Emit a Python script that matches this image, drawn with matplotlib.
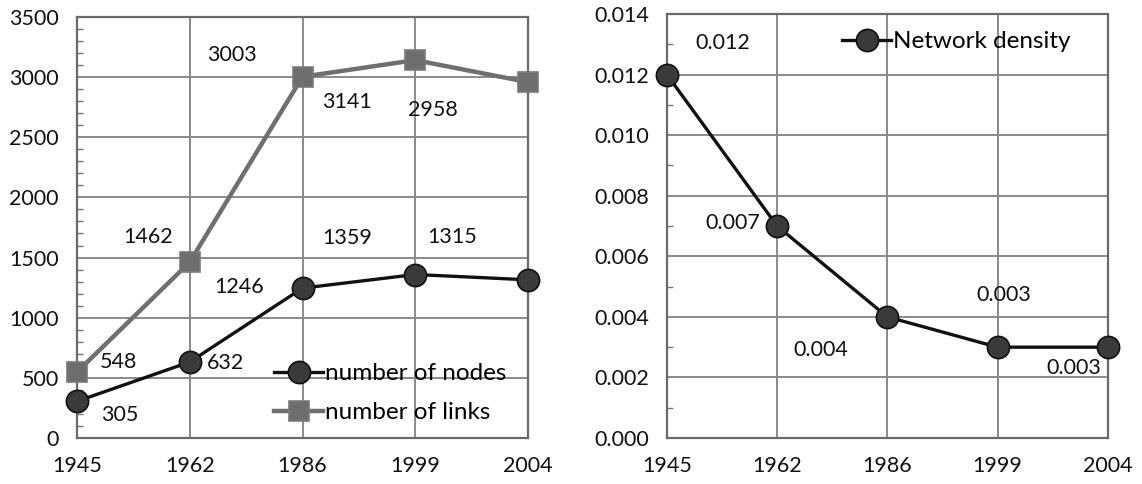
import matplotlib
matplotlib.use("Agg")
import matplotlib.pyplot as plt
from matplotlib.ticker import MultipleLocator, FormatStrFormatter

plt.rcParams['font.family'] = ['Lato', 'DejaVu Sans']

years = ["1945", "1962", "1986", "1999", "2004"]
nodes = [305, 632, 1246, 1359, 1315]
links = [548, 1462, 3003, 3141, 2958]
density = [0.012, 0.007, 0.004, 0.003, 0.003]
density_labels = ["0.012", "0.007", "0.004", "0.003", "0.003"]

node_offsets = [(43, -14), (36, -1), (-63, 1), (-68, 37), (-76, 43)]
link_offsets = [(41, 10), (-42, 25), (-71, 22), (-68, -42), (-95, -28)]
dens_offsets = [(56, 32), (-44, 3), (-67, -33), (6, 52), (-34, -21)]

fig = plt.figure(figsize=(11.42, 4.84), dpi=100)
ax1 = fig.add_axes([0.0674, 0.095, 0.395, 0.870])
ax2 = fig.add_axes([0.584, 0.095, 0.386, 0.876])

x = list(range(len(years)))
fs = 15.5
lfs = 17.5
gridc = '#8a8a8a'

for ax in (ax1, ax2):
    ax.set_xlim(0, len(years) - 1)
    ax.set_xticks(x)
    ax.set_xticklabels(years)
    ax.grid(True, color=gridc, linewidth=1.4)
    ax.set_axisbelow(True)
    for s in ax.spines.values():
        s.set_color('#6a6a6a')
        s.set_linewidth(1.6)
    ax.tick_params(axis='both', which='major', length=0, labelsize=fs, colors='#111111')
    ax.tick_params(axis='x', which='major', pad=13)
    ax.tick_params(axis='y', which='major', pad=13)
    ax.tick_params(axis='y', which='minor', direction='in', length=4, color='#777777', width=1)

# Left chart
ax1.set_ylim(0, 3500)
ax1.yaxis.set_major_locator(MultipleLocator(500))
ax1.yaxis.set_minor_locator(MultipleLocator(100))
ax1.plot(x, nodes, color='#111111', linewidth=2.4, marker='o', markersize=16,
         markerfacecolor='#3a3a3a', markeredgecolor='#111111', markeredgewidth=1.2,
         label='number of nodes', zorder=4, clip_on=False)
ax1.plot(x, links, color='#6f6f6f', linewidth=3.2, marker='s', markersize=14,
         markerfacecolor='#6e6e6e', markeredgecolor='#7a7a7a', markeredgewidth=1.2,
         label='number of links', zorder=3, clip_on=False)
for xi, v, off in zip(x, nodes, node_offsets):
    ax1.annotate(str(v), (xi, v), xytext=off, textcoords='offset pixels',
                 ha='center', va='center', fontsize=fs, color='#111111')
for xi, v, off in zip(x, links, link_offsets):
    ax1.annotate(str(v), (xi, v), xytext=off, textcoords='offset pixels',
                 ha='center', va='center', fontsize=fs, color='#111111')
ax1.legend(loc='lower right', frameon=False, fontsize=lfs, handlelength=2.0,
           handletextpad=0.1, labelspacing=0.75, borderaxespad=0.2,
           bbox_to_anchor=(0.985, 0.0))

# Right chart
ax2.set_ylim(0, 0.014)
ax2.yaxis.set_major_locator(MultipleLocator(0.002))
ax2.yaxis.set_minor_locator(MultipleLocator(0.001))
ax2.yaxis.set_major_formatter(FormatStrFormatter('%.3f'))
ax2.plot(x, density, color='#111111', linewidth=2.4, marker='o', markersize=16,
         markerfacecolor='#3a3a3a', markeredgecolor='#111111', markeredgewidth=1.2,
         label='Network density', zorder=4, clip_on=False)
for xi, v, lab, off in zip(x, density, density_labels, dens_offsets):
    ax2.annotate(lab, (xi, v), xytext=off, textcoords='offset pixels',
                 ha='center', va='center', fontsize=fs, color='#111111')
ax2.legend(loc='upper right', frameon=False, fontsize=lfs, handlelength=2.0,
           handletextpad=0.1, borderaxespad=0.3, bbox_to_anchor=(0.955, 1.0))

fig.savefig('out.png', dpi=100, facecolor='white')
